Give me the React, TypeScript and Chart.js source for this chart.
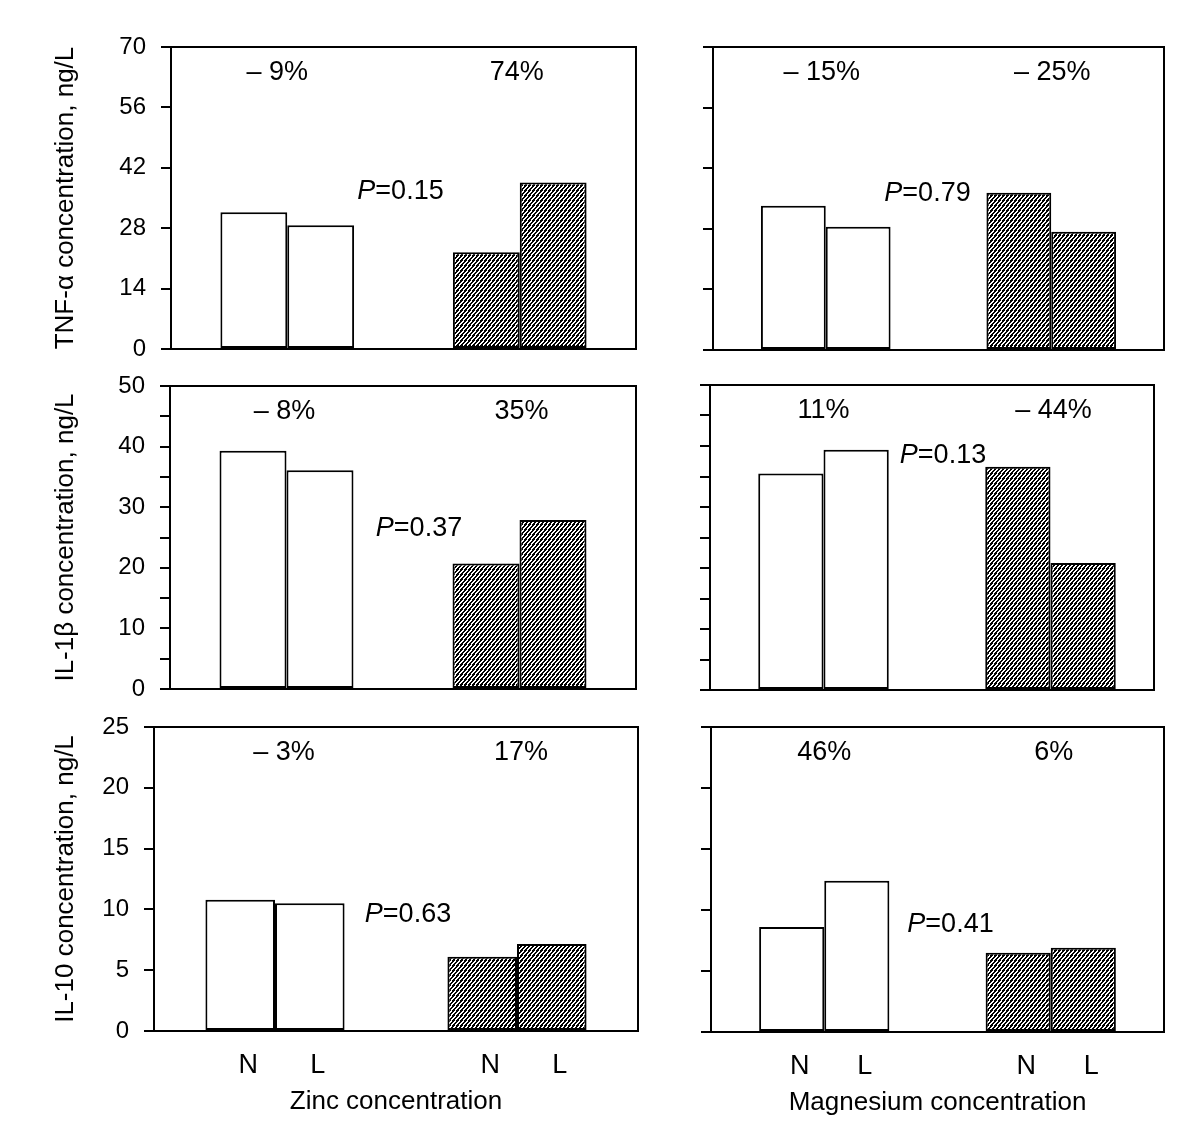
import React, { useEffect, useRef } from 'react';
import { Chart, registerables } from 'chart.js';

Chart.register(...registerables);

const FONT = "'Liberation Sans', Arial, Helvetica, sans-serif";

// ---- data ----
const groups = ['Group 1', 'Group 2'];
const barLabels = ['N', 'L'];

const tnfZincN = [31.7, 22.4];
const tnfZincL = [28.7, 38.6];
const tnfMgN = [33.3, 36.3];
const tnfMgL = [28.5, 27.3];
const il1bZincN = [39.3, 20.7];
const il1bZincL = [36.1, 27.9];
const il1bMgN = [35.5, 36.6];
const il1bMgL = [39.4, 20.8];
const il10ZincN = [10.8, 6.1];
const il10ZincL = [10.5, 7.15];
const il10MgN = [8.6, 6.5];
const il10MgL = [12.4, 6.9];

const tnfZincPct = ['– 9%', '74%'];
const tnfMgPct = ['– 15%', '– 25%'];
const il1bZincPct = ['– 8%', '35%'];
const il1bMgPct = ['11%', '– 44%'];
const il10ZincPct = ['– 3%', '17%'];
const il10MgPct = ['46%', '6%'];

const pTnfZinc = '0.15';
const pTnfMg = '0.79';
const pIl1bZinc = '0.37';
const pIl1bMg = '0.13';
const pIl10Zinc = '0.63';
const pIl10Mg = '0.41';

const tnfTicks = [0, 14, 28, 42, 56, 70];
const il1bTicks = [0, 10, 20, 30, 40, 50];
const il10Ticks = [0, 5, 10, 15, 20, 25];

const yTitles = ['TNF-α concentration, ng/L', 'IL-1β concentration, ng/L', 'IL-10 concentration, ng/L'];
const xTitles = ['Zinc concentration', 'Magnesium concentration'];

// ---- layout / style (not data) ----
type Box = { l: number; t: number; r: number; b: number };
type PanelCfg = {
  nVals: number[];
  lVals: number[];
  yMax: number;
  step: number;
  tickLabels: number[];
  showLabels: boolean;
  yTitle?: string;
  xTitle?: string;
  pct: string[];
  p: string;
  box: Box;
  canvasLeft: number;
  inset: number;
  pctDx: number[];
  pDx: number;
  pY: number;
};

const PT = 32;
const PR = 8;
const XH = 92;
const NB = 32;

const panels: PanelCfg[] = [
  { nVals: tnfZincN, lVals: tnfZincL, yMax: 70, step: 14, tickLabels: tnfTicks, showLabels: true, yTitle: yTitles[0], pct: tnfZincPct, p: pTnfZinc, box: { l: 171, t: 47, r: 636, b: 349 }, canvasLeft: 0, inset: 0, pctDx: [-10, -3], pDx: -3, pY: 36.5 },
  { nVals: tnfMgN, lVals: tnfMgL, yMax: 70, step: 14, tickLabels: tnfTicks, showLabels: false, pct: tnfMgPct, p: pTnfMg, box: { l: 713, t: 47, r: 1164, b: 350 }, canvasLeft: 650, inset: 0, pctDx: [-4, 1], pDx: -11, pY: 36.1 },
  { nVals: il1bZincN, lVals: il1bZincL, yMax: 50, step: 5, tickLabels: il1bTicks, showLabels: true, yTitle: yTitles[1], pct: il1bZincPct, p: pIl1bZinc, box: { l: 170, t: 386, r: 636, b: 689 }, canvasLeft: 0, inset: 0, pctDx: [-2, 2], pDx: 16, pY: 26.5 },
  { nVals: il1bMgN, lVals: il1bMgL, yMax: 50, step: 5, tickLabels: il1bTicks, showLabels: false, pct: il1bMgPct, p: pIl1bMg, box: { l: 710, t: 385, r: 1164, b: 690 }, canvasLeft: 650, inset: 10, pctDx: [0, 3], pDx: 6, pY: 38.5 },
  { nVals: il10ZincN, lVals: il10ZincL, yMax: 25, step: 5, tickLabels: il10Ticks, showLabels: true, yTitle: yTitles[2], xTitle: xTitles[0], pct: il10ZincPct, p: pIl10Zinc, box: { l: 154, t: 727, r: 638, b: 1031 }, canvasLeft: 0, inset: 0, pctDx: [9, 4], pDx: 12, pY: 9.6 },
  { nVals: il10MgN, lVals: il10MgL, yMax: 25, step: 5, tickLabels: il10Ticks, showLabels: false, xTitle: xTitles[1], pct: il10MgPct, p: pIl10Mg, box: { l: 711, t: 727, r: 1164, b: 1032 }, canvasLeft: 650, inset: 0, pctDx: [0, 3], pDx: 13, pY: 8.8 },
];

function makeHatch(): CanvasPattern | string {
  const w = 4;
  const h = 5;
  const c = document.createElement('canvas');
  c.width = w;
  c.height = h;
  const g = c.getContext('2d');
  if (!g) return '#666';
  const img = g.createImageData(w, h);
  for (let y = 0; y < h; y++) {
    for (let x = 0; x < w; x++) {
      const v = (5 * x + 4 * y) % 20;
      const black = v < 11;
      const i = (y * w + x) * 4;
      const c8 = black ? 0 : 255;
      img.data[i] = c8;
      img.data[i + 1] = c8;
      img.data[i + 2] = c8;
      img.data[i + 3] = 255;
    }
  }
  g.putImageData(img, 0, 0);
  const pat = g.createPattern(c, 'repeat');
  return pat || '#666';
}

function Panel({ cfg }: { cfg: PanelCfg }) {
  const ref = useRef<HTMLCanvasElement | null>(null);
  const top = cfg.box.t - PT;
  const bottomExtra = cfg.xTitle ? XH : NB;
  const width = cfg.box.r + PR - cfg.canvasLeft;
  const height = cfg.box.b + bottomExtra - top;
  const AW = cfg.box.l - cfg.canvasLeft;

  useEffect(() => {
    const canvas = ref.current;
    if (!canvas) return;
    const hatch = makeHatch();
    const fills = ['#ffffff', hatch];

    const deco = {
      id: 'deco',
      afterDatasetsDraw(chart: any) {
        const ctx = chart.ctx as CanvasRenderingContext2D;
        const a = chart.chartArea;
        ctx.save();
        ctx.strokeStyle = '#000';
        ctx.lineWidth = 2;
        ctx.strokeRect(a.left, a.top, a.right - a.left - cfg.inset, a.bottom - a.top);
        ctx.restore();
      },
      afterDraw(chart: any) {
        const ctx = chart.ctx as CanvasRenderingContext2D;
        const a = chart.chartArea;
        const xs = chart.scales.x;
        const ys = chart.scales.y;
        ctx.save();
        ctx.fillStyle = '#000';
        ctx.textBaseline = 'middle';
        ctx.textAlign = 'center';
        ctx.font = `27px ${FONT}`;
        cfg.pct.forEach((t, i) => {
          ctx.fillText(t, xs.getPixelForValue(i) + cfg.pctDx[i], a.top + 26);
        });
        const px = xs.getPixelForValue(0.5) + cfg.pDx;
        const py = ys.getPixelForValue(cfg.pY);
        ctx.font = `italic 27px ${FONT}`;
        const w1 = ctx.measureText('P').width;
        ctx.font = `27px ${FONT}`;
        const rest = '=' + cfg.p;
        const w2 = ctx.measureText(rest).width;
        const x0 = px - (w1 + w2) / 2;
        ctx.textAlign = 'left';
        ctx.font = `italic 27px ${FONT}`;
        ctx.fillText('P', x0, py);
        ctx.font = `27px ${FONT}`;
        ctx.fillText(rest, x0 + w1, py);
        if (cfg.xTitle) {
          ctx.textAlign = 'center';
          ctx.font = `27px ${FONT}`;
          for (let d = 0; d < 2; d++) {
            const meta = chart.getDatasetMeta(d);
            meta.data.forEach((bar: any) => {
              ctx.fillText(barLabels[d], bar.x + 8, a.bottom + 35);
            });
          }
        }
        ctx.restore();
      },
    };

    const chart = new Chart(canvas, {
      type: 'bar',
      data: {
        labels: groups,
        datasets: [
          { label: barLabels[0], data: cfg.nVals, backgroundColor: fills as any, borderColor: '#000', borderWidth: 2, borderSkipped: false as any },
          { label: barLabels[1], data: cfg.lVals, backgroundColor: fills as any, borderColor: '#000', borderWidth: 2, borderSkipped: false as any },
        ],
      },
      options: {
        animation: false,
        responsive: false,
        devicePixelRatio: 1,
        events: [],
        layout: { padding: { top: PT, right: PR, left: 0, bottom: cfg.xTitle ? 0 : NB } },
        datasets: { bar: { categoryPercentage: 0.575, barPercentage: 1 } },
        plugins: { legend: { display: false }, tooltip: { enabled: false }, title: { display: false } },
        scales: {
          x: {
            type: 'category',
            display: !!cfg.xTitle,
            offset: true,
            grid: { display: false },
            border: { display: false },
            ticks: { display: false },
            title: {
              display: !!cfg.xTitle,
              text: cfg.xTitle || '',
              color: '#000',
              font: { family: FONT, size: 26 },
              padding: { top: 0, bottom: 6 },
            },
            afterFit: (s: any) => {
              if (cfg.xTitle) s.height = XH;
            },
          },
          y: {
            min: 0,
            max: cfg.yMax,
            grid: { display: true, drawOnChartArea: false, drawTicks: true, tickLength: 10, color: '#000', lineWidth: 2 },
            border: { display: false },
            ticks: {
              stepSize: cfg.step,
              autoSkip: false,
              padding: 15,
              color: '#000',
              font: { family: FONT, size: 24 },
              callback: (v: any) => (cfg.showLabels && cfg.tickLabels.includes(Number(v)) ? String(v) : ''),
            },
            title: {
              display: !!cfg.yTitle,
              text: cfg.yTitle || '',
              color: '#000',
              font: { family: FONT, size: 26 },
              padding: { top: 50, bottom: 0 },
            },
            afterFit: (s: any) => {
              s.width = AW;
            },
          },
        },
      },
      plugins: [deco],
    } as any);
    return () => chart.destroy();
  }, []);

  return (
    <canvas
      ref={ref}
      width={width}
      height={height}
      style={{ position: 'absolute', left: cfg.canvasLeft, top, width, height }}
    />
  );
}

export default function App() {
  return (
    <div style={{ position: 'absolute', left: 0, top: 0, width: 1200, height: 1147, background: '#fff', overflow: 'hidden' }}>
      {panels.map((p, i) => (
        <Panel key={i} cfg={p} />
      ))}
    </div>
  );
}
